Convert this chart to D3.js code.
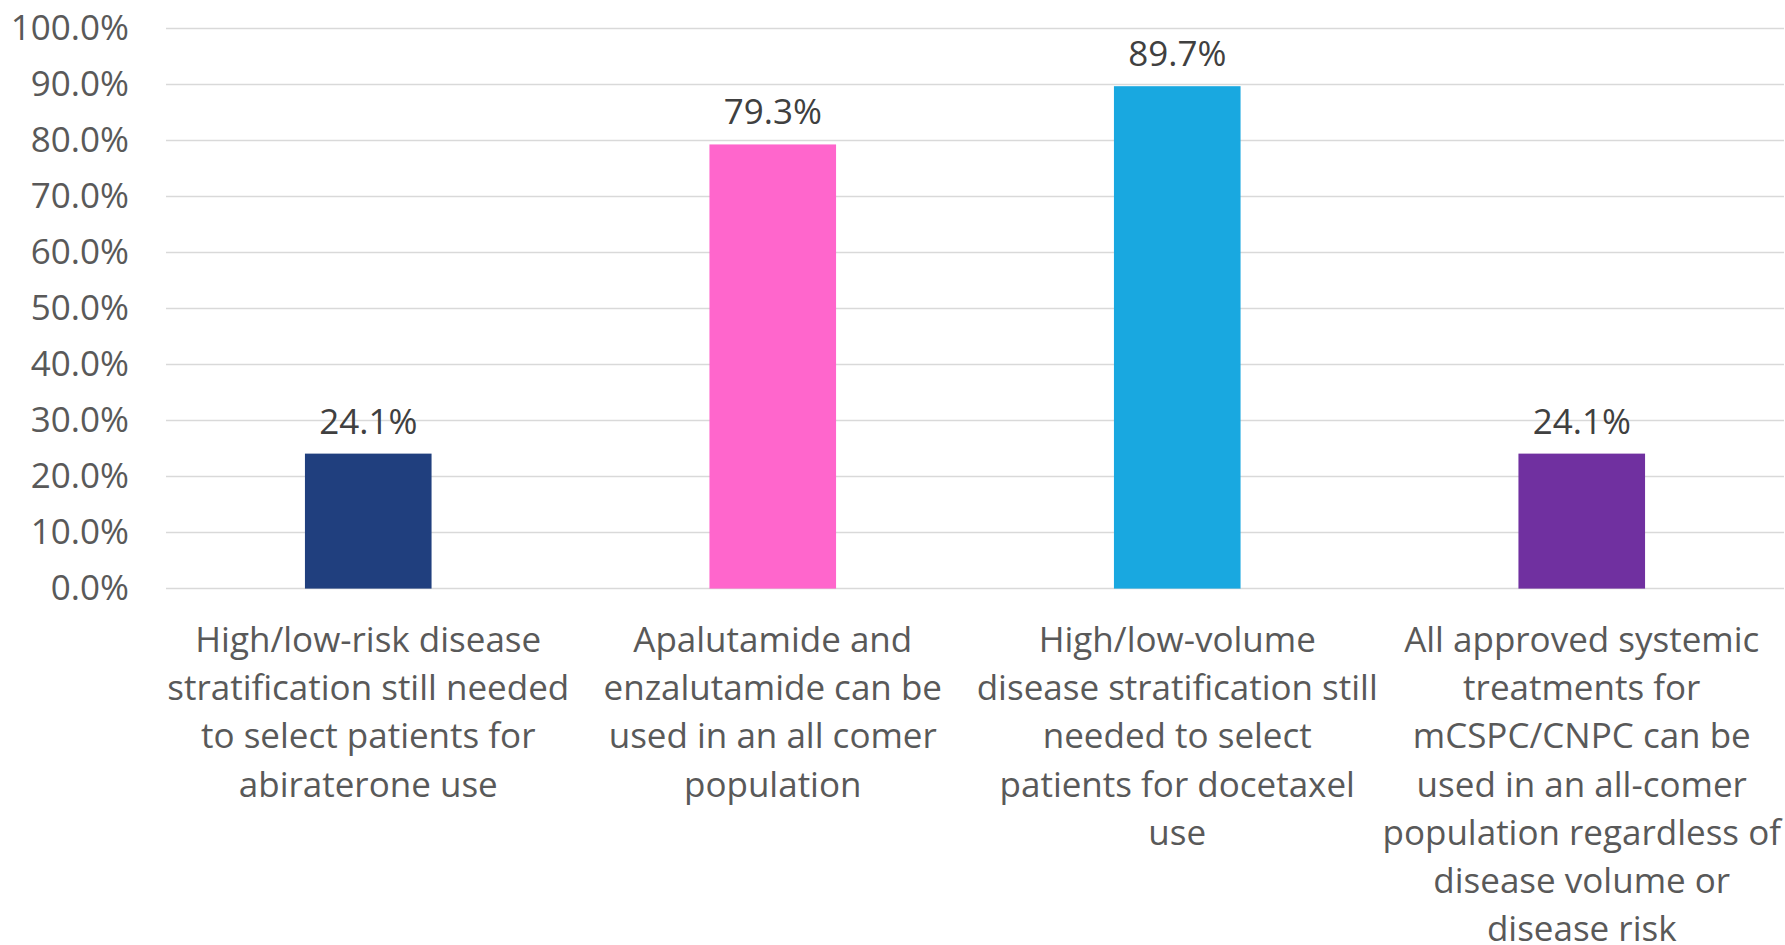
<!DOCTYPE html>
<html>
<head>
<meta charset="utf-8">
<script src="https://cdn.jsdelivr.net/npm/d3@7"></script>
<style>
  html, body { margin: 0; padding: 0; background: #fff; }
  svg { display: block; }
  text { font-family: "Open Sans", "Noto Sans", sans-serif; }
</style>
</head>
<body>
<svg id="chart" width="1785" height="945"></svg>
<script>
// Survey statements (each wrapped into display lines)
const categories = [
  ["High/low-risk disease", "stratification still needed", "to select patients for", "abiraterone use"],
  ["Apalutamide and", "enzalutamide can be", "used in an all comer", "population"],
  ["High/low-volume", "disease stratification still", "needed to select", "patients for docetaxel", "use"],
  ["All approved systemic", "treatments for", "mCSPC/CNPC can be", "used in an all-comer", "population regardless of", "disease volume or", "disease risk"]
];
// Share of respondents agreeing, in percent
const values = [24.1, 79.3, 89.7, 24.1];
const barColors = ["#203F7E", "#FF66CC", "#19A8E0", "#7030A0"];
const yTicks = [0, 10, 20, 30, 40, 50, 60, 70, 80, 90, 100];

const svg = d3.select("#chart");
const margin = { left: 166, right: 1, top: 28.5, bottom: 356.4 };
const W = 1785, H = 945;
const fontSize = "35px";

const x = d3.scaleBand()
  .domain(d3.range(categories.length))
  .range([margin.left, W - margin.right])
  .paddingInner(0.687)
  .paddingOuter(0.3435);

const y = d3.scaleLinear()
  .domain([0, 100])
  .range([H - margin.bottom, margin.top]);

// Horizontal gridlines
svg.append("g")
  .selectAll("line")
  .data(yTicks)
  .join("line")
  .attr("x1", margin.left)
  .attr("x2", W - margin.right)
  .attr("y1", d => y(d))
  .attr("y2", d => y(d))
  .attr("stroke", "#D9D9D9")
  .attr("stroke-width", 1.5);

// Y axis labels
const yAxis = d3.axisLeft(y)
  .tickValues(yTicks)
  .tickFormat(d => d.toFixed(1) + "%")
  .tickSize(0)
  .tickPadding(37);
svg.append("g")
  .attr("transform", `translate(${margin.left},0)`)
  .call(yAxis)
  .call(g => g.select(".domain").remove())
  .selectAll("text")
  .attr("fill", "#595959")
  .style("font-size", fontSize)
  .style("font-family", "'Open Sans', 'Noto Sans', sans-serif");

// Bars
svg.append("g")
  .selectAll("rect")
  .data(values)
  .join("rect")
  .attr("x", (d, i) => x(i))
  .attr("width", x.bandwidth())
  .attr("y", d => y(d))
  .attr("height", d => y(0) - y(d))
  .attr("fill", (d, i) => barColors[i]);

// Value labels
svg.append("g")
  .selectAll("text")
  .data(values)
  .join("text")
  .attr("x", (d, i) => x(i) + x.bandwidth() / 2)
  .attr("y", d => y(d) - 20)
  .attr("text-anchor", "middle")
  .attr("fill", "#404040")
  .style("font-size", fontSize)
  .text(d => d.toFixed(1) + "%");

// Category labels
const catG = svg.append("g")
  .selectAll("text")
  .data(categories)
  .join("text")
  .attr("text-anchor", "middle")
  .attr("fill", "#595959")
  .style("font-size", fontSize);
catG.selectAll("tspan")
  .data((lines, i) => lines.map(l => ({ l, i })))
  .join("tspan")
  .attr("x", d => x(d.i) + x.bandwidth() / 2)
  .attr("y", (d, j) => y(0) + 63 + j * 48.3)
  .text(d => d.l);
</script>
</body>
</html>
